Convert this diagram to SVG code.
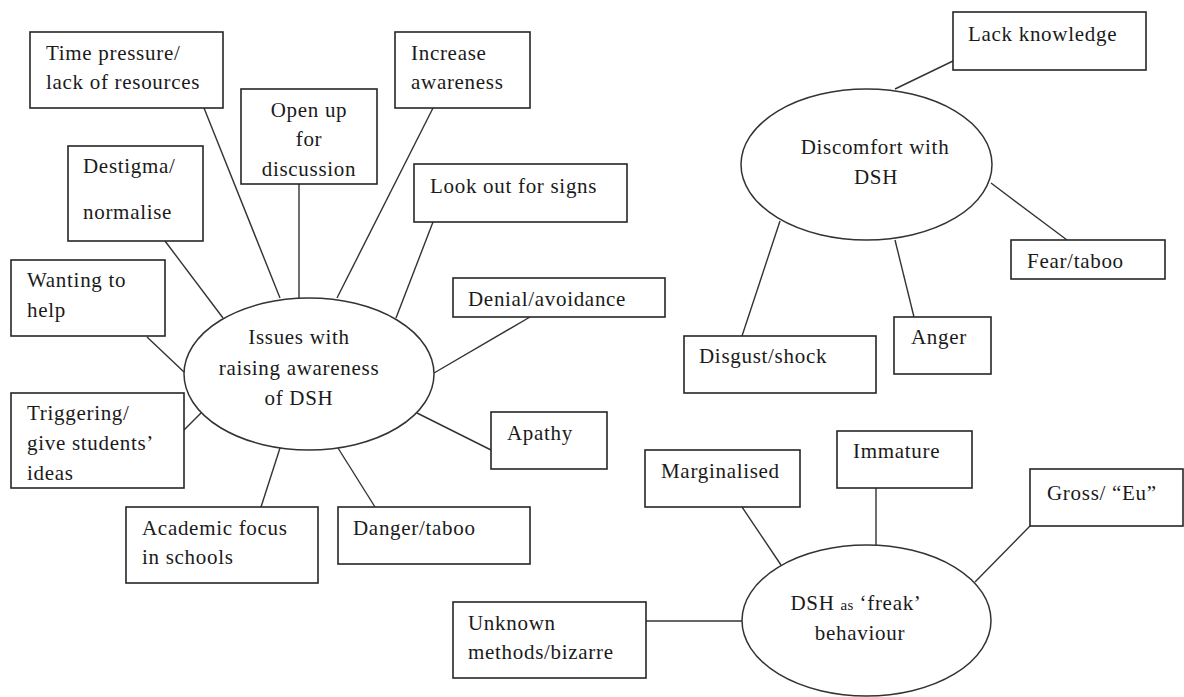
<svg xmlns="http://www.w3.org/2000/svg" width="1184" height="697" viewBox="0 0 1184 697">
  <style>
    .box { fill: #ffffff; stroke: #262626; stroke-width: 1.6; }
    .hub { fill: #ffffff; stroke: #333333; stroke-width: 1.5; }
    .link { stroke: #333333; stroke-width: 1.4; fill: none; }
    text { font-family: "Liberation Serif", "Times New Roman", serif; font-size: 21px; letter-spacing: 0.7px; fill: #1a1a1a; }
    .mid { text-anchor: middle; }
    .small { font-size: 15px; letter-spacing: 0.3px; }
  </style>
  <rect width="1184" height="697" fill="#ffffff"/>

  <!-- connectors -->
  <g id="connectors">
    <!-- Issues with raising awareness of DSH -->
    <line class="link" x1="204" y1="108" x2="280" y2="298"/>
    <line class="link" x1="299" y1="184" x2="299" y2="298"/>
    <line class="link" x1="433" y1="108" x2="337" y2="298"/>
    <line class="link" x1="433" y1="222" x2="396" y2="318"/>
    <line class="link" x1="165" y1="241" x2="223" y2="318"/>
    <line class="link" x1="147" y1="337" x2="184" y2="372"/>
    <line class="link" x1="184" y1="430" x2="201" y2="413"/>
    <line class="link" x1="261" y1="507" x2="280" y2="448"/>
    <line class="link" x1="375" y1="507" x2="338" y2="448"/>
    <line class="link" x1="434" y1="373" x2="530" y2="317"/>
    <line class="link" x1="417" y1="413" x2="491" y2="450"/>
    <!-- Discomfort with DSH -->
    <line class="link" x1="895" y1="89" x2="953" y2="61"/>
    <line class="link" x1="991" y1="183" x2="1067" y2="240"/>
    <line class="link" x1="780" y1="221" x2="742" y2="336"/>
    <line class="link" x1="895" y1="240" x2="914" y2="317"/>
    <!-- DSH as freak behaviour -->
    <line class="link" x1="742" y1="507" x2="781" y2="565"/>
    <line class="link" x1="876" y1="488" x2="876" y2="545"/>
    <line class="link" x1="1030" y1="526" x2="975" y2="582"/>
    <line class="link" x1="646" y1="621" x2="742" y2="621"/>
  </g>

  <!-- central ellipses -->
  <g id="hub-issues">
    <ellipse class="hub" cx="309" cy="374" rx="125" ry="76"/>
    <text class="mid" x="299" y="344">Issues with</text>
    <text class="mid" x="299" y="375">raising awareness</text>
    <text class="mid" x="299" y="405">of DSH</text>
  </g>
  <g id="hub-discomfort">
    <ellipse class="hub" cx="866.5" cy="164.5" rx="125.5" ry="75.5"/>
    <text class="mid" x="875" y="154">Discomfort with</text>
    <text class="mid" x="876" y="184">DSH</text>
  </g>
  <g id="hub-freak">
    <ellipse class="hub" cx="866.5" cy="620.5" rx="124.5" ry="75.5"/>
    <text class="mid" x="856" y="610">DSH <tspan class="small">as</tspan> ‘freak’</text>
    <text class="mid" x="860" y="640">behaviour</text>
  </g>

  <!-- branches of "Issues with raising awareness of DSH" -->
  <g id="node-time-pressure">
    <rect class="box" x="30" y="32" width="193" height="76"/>
    <text x="46" y="60">Time pressure/</text>
    <text x="46" y="89">lack of resources</text>
  </g>
  <g id="node-open-up">
    <rect class="box" x="241" y="89" width="136" height="95"/>
    <text class="mid" x="309" y="117">Open up</text>
    <text class="mid" x="309" y="146">for</text>
    <text class="mid" x="309" y="176">discussion</text>
  </g>
  <g id="node-increase-awareness">
    <rect class="box" x="395" y="32" width="135" height="76"/>
    <text x="411" y="60">Increase</text>
    <text x="411" y="89">awareness</text>
  </g>
  <g id="node-look-out">
    <rect class="box" x="414" y="164" width="213" height="58"/>
    <text x="430" y="193">Look out for signs</text>
  </g>
  <g id="node-destigma">
    <rect class="box" x="68" y="146" width="135" height="95"/>
    <text x="83" y="173">Destigma/</text>
    <text x="83" y="219">normalise</text>
  </g>
  <g id="node-wanting-to-help">
    <rect class="box" x="11" y="260" width="154" height="76"/>
    <text x="27" y="287">Wanting to</text>
    <text x="27" y="317">help</text>
  </g>
  <g id="node-triggering">
    <rect class="box" x="11" y="393" width="173" height="95"/>
    <text x="27" y="420">Triggering/</text>
    <text x="27" y="450">give students’</text>
    <text x="27" y="480">ideas</text>
  </g>
  <g id="node-academic-focus">
    <rect class="box" x="126" y="507" width="192" height="76"/>
    <text x="142" y="535">Academic focus</text>
    <text x="142" y="564">in schools</text>
  </g>
  <g id="node-danger">
    <rect class="box" x="338" y="507" width="192" height="57"/>
    <text x="353" y="535">Danger/taboo</text>
  </g>
  <g id="node-denial">
    <rect class="box" x="453" y="278" width="212" height="39"/>
    <text x="468" y="306">Denial/avoidance</text>
  </g>
  <g id="node-apathy">
    <rect class="box" x="491" y="412" width="116" height="57"/>
    <text x="507" y="440">Apathy</text>
  </g>

  <!-- branches of "Discomfort with DSH" -->
  <g id="node-lack-knowledge">
    <rect class="box" x="953" y="12" width="193" height="58"/>
    <text x="968" y="41">Lack knowledge</text>
  </g>
  <g id="node-fear">
    <rect class="box" x="1011" y="240" width="154" height="39"/>
    <text x="1027" y="268">Fear/taboo</text>
  </g>
  <g id="node-disgust">
    <rect class="box" x="684" y="336" width="192" height="57"/>
    <text x="699" y="363">Disgust/shock</text>
  </g>
  <g id="node-anger">
    <rect class="box" x="894" y="317" width="97" height="57"/>
    <text x="911" y="344">Anger</text>
  </g>

  <!-- branches of "DSH as freak behaviour" -->
  <g id="node-marginalised">
    <rect class="box" x="645" y="450" width="155" height="57"/>
    <text x="661" y="478">Marginalised</text>
  </g>
  <g id="node-immature">
    <rect class="box" x="837" y="431" width="135" height="57"/>
    <text x="853" y="458">Immature</text>
  </g>
  <g id="node-gross">
    <rect class="box" x="1030" y="469" width="153" height="57"/>
    <text x="1047" y="500">Gross/ “Eu”</text>
  </g>
  <g id="node-unknown">
    <rect class="box" x="453" y="602" width="193" height="76"/>
    <text x="468" y="630">Unknown</text>
    <text x="468" y="659">methods/bizarre</text>
  </g>
</svg>
